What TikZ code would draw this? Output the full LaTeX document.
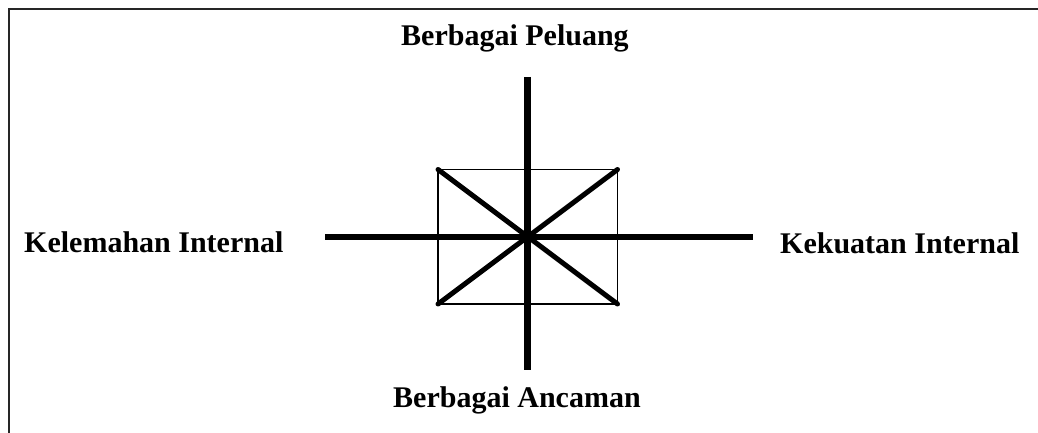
\documentclass[tikz,border=0pt]{standalone}
\usepackage{fontspec}
\setmainfont{Liberation Serif}
\begin{document}
\begin{tikzpicture}[x=1pt,y=-1pt,
  lbl/.style={inner sep=0pt,anchor=base west,font=\fontsize{30}{35}\selectfont\bfseries},
  axis/.style={line width=5.5pt},
  vaxis/.style={line width=7pt},
  diag/.style={line width=5pt,line cap=round},
  box/.style={line width=1.4pt},
  frame/.style={line width=2pt,draw=black!85}]
\useasboundingbox (0,0) rectangle (1038,433);
% frame (top and left only visible)
\coordinate (ftl) at (8.5,9.5);
\coordinate (ftr) at (1038,9.5);
\coordinate (fbl) at (8.5,433);
\draw[frame] (fbl) -- (ftl) -- (ftr);
% key points
\coordinate (c) at (527.5,237);
\coordinate (top) at (527.5,77);
\coordinate (bot) at (527.5,370);
\coordinate (lft) at (325,237);
\coordinate (rgt) at (752.5,237);
\coordinate (tl) at (438,169.5);
\coordinate (tr) at (617.5,169.5);
\coordinate (bl) at (438,304);
\coordinate (br) at (617.5,304);
% box
\draw[box] (tl) -- (tr) -- (br) -- (bl) -- cycle;
% diagonals
\draw[diag] (tl) -- (br);
\draw[diag] (tr) -- (bl);
% axes
\draw[axis] (lft) -- (rgt);
\draw[vaxis] (top) -- (bot);
% labels
\node[lbl] (peluang) at (401,46) {Berbagai Peluang};
\node[lbl] (ancaman) at (393,407) {Berbagai Ancaman};
\node[lbl] (kelemahan) at (24,252) {Kelemahan Internal};
\node[lbl] (kekuatan) at (780,253) {Kekuatan Internal};
\end{tikzpicture}
\end{document}
